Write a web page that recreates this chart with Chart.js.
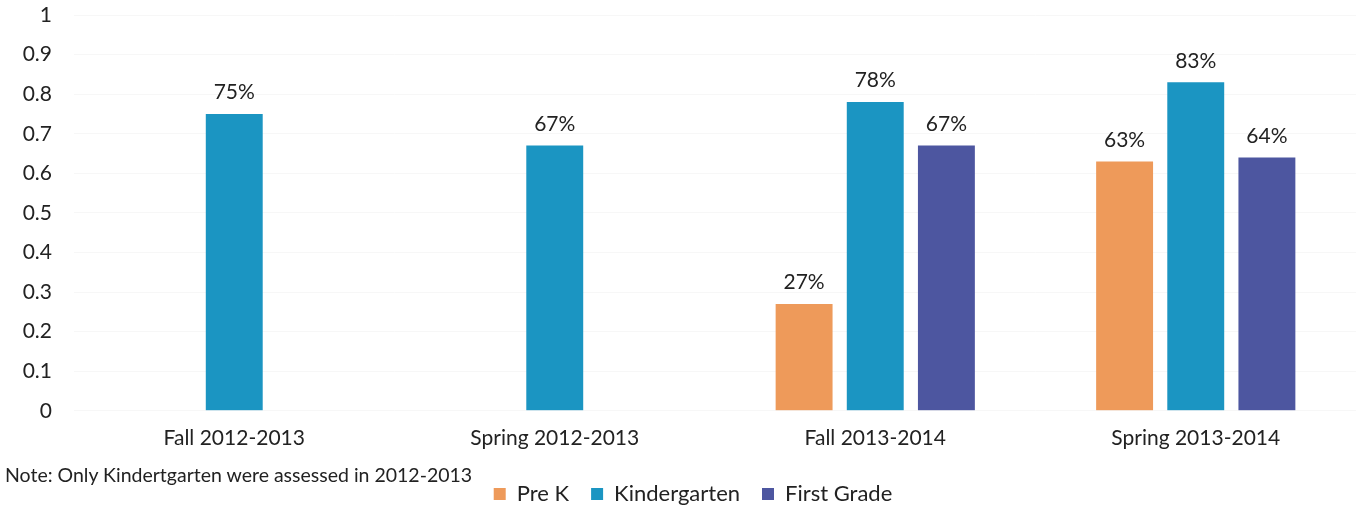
<!DOCTYPE html>
<html>
<head>
<meta charset="utf-8">
<script src="https://cdn.jsdelivr.net/npm/chart.js@4/dist/chart.umd.min.js"></script>
<style>
  html, body { margin: 0; padding: 0; background: #fff; }
  #wrap { position: relative; width: 1356px; height: 509px; }
  #note { position: absolute; left: 5px; top: 463px; font: 19.5px Lato, "Open Sans", sans-serif; color: #222; }
</style>
</head>
<body>
<div id="wrap">
  <canvas id="barChart" width="1356" height="509"></canvas>
  <div id="note">Note: Only Kindertgarten were assessed in 2012-2013</div>
</div>
<script>
'use strict';

var categories = ['Fall 2012-2013', 'Spring 2012-2013', 'Fall 2013-2014', 'Spring 2013-2014'];
var preK         = [null, null, 0.27, 0.63];
var kindergarten = [0.75, 0.67, 0.78, 0.83];
var firstGrade   = [null, null, 0.67, 0.64];
var yTicks = [0, 0.1, 0.2, 0.3, 0.4, 0.5, 0.6, 0.7, 0.8, 0.9, 1];

var fontFamily = 'Lato, "Open Sans", sans-serif';

// draws the percent above each bar
var barLabels = {
	id: 'barLabels',
	afterDatasetsDraw: function(chart) {
		var ctx = chart.ctx;
		ctx.save();
		ctx.font = '21px ' + fontFamily;
		ctx.fillStyle = '#222';
		ctx.textAlign = 'center';
		ctx.textBaseline = 'bottom';
		chart.data.datasets.forEach(function(ds, i) {
			chart.getDatasetMeta(i).data.forEach(function(bar, j) {
				var v = ds.data[j];
				if (v === null) return;
				ctx.fillText(Math.round(v * 100) + '%', bar.x, bar.y - 11);
			});
		});
		ctx.restore();
	}
};

// legend sits a little right of centre in the original
var legendShift = {
	id: 'legendShift',
	afterLayout: function(chart) {
		chart.legend.left += 15;
		chart.legend.right += 15;
	}
};

var barChartData = {
	labels: categories,
	datasets: [
		{ label: 'Pre K',        data: preK,         backgroundColor: '#ee9a5a' },
		{ label: 'Kindergarten', data: kindergarten, backgroundColor: '#1b95c2' },
		{ label: 'First Grade',  data: firstGrade,   backgroundColor: '#4d56a0' }
	]
};

new Chart(document.getElementById('barChart'), {
	type: 'bar',
	data: barChartData,
	plugins: [barLabels, legendShift],
	options: {
		responsive: false,
		animation: false,
		categoryPercentage: 0.666,
		barPercentage: 0.8,
		layout: { padding: { top: 0, right: 0, left: 0, bottom: -6 } },
		plugins: {
			tooltip: { enabled: false },
			legend: {
				position: 'bottom',
				labels: {
					boxWidth: 12,
					boxHeight: 12,
					padding: 22,
					color: '#222',
					font: { size: 22, family: fontFamily }
				}
			}
		},
		scales: {
			x: {
				grid: { display: false },
				border: { display: false },
				afterFit: function(scale) { scale.height += 3; },
				ticks: { color: '#222', padding: 7, font: { size: 21, family: fontFamily } }
			},
			y: {
				min: 0,
				max: 1,
				afterBuildTicks: function(scale) {
					scale.ticks = yTicks.map(function(v) { return { value: v }; });
				},
				afterFit: function(scale) {
					scale.width = 74;
					scale.paddingTop = 15;
					scale.paddingBottom = 11;
				},
				grid: { color: '#f7f7f7', drawTicks: false },
				border: { display: false },
				ticks: {
					color: '#222',
					padding: 22,
					font: { size: 21, family: fontFamily },
					callback: function(v) { return (v === 0 || v === 1) ? String(v) : v.toFixed(1); }
				}
			}
		}
	}
});
</script>
</body>
</html>
